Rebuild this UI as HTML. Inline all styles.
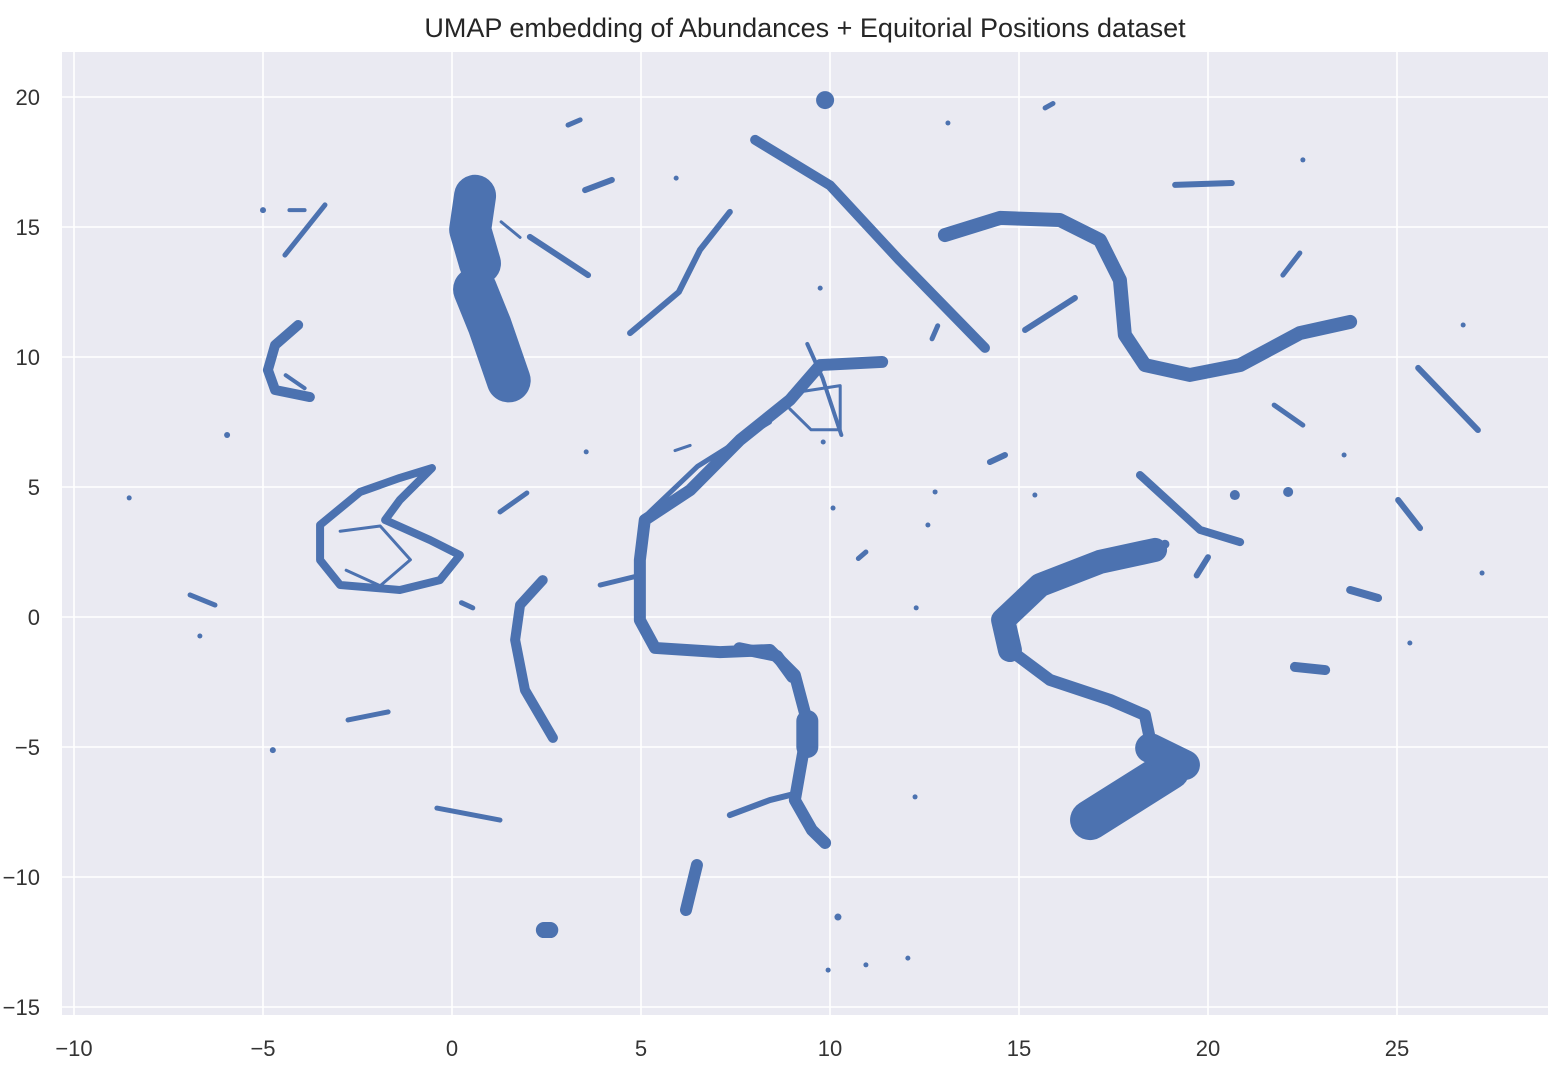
<!DOCTYPE html>
<html>
<head>
<meta charset="utf-8">
<style>
  html, body { margin: 0; padding: 0; background: #ffffff; }
  body { width: 1566px; height: 1072px; overflow: hidden; font-family: "Liberation Sans", "DejaVu Sans", sans-serif; }
  svg text { font-family: "Liberation Sans", "DejaVu Sans", sans-serif; }
</style>
</head>
<body>
<svg id="chart" width="1566" height="1072" viewBox="0 0 1566 1072" xmlns="http://www.w3.org/2000/svg">
  <rect x="62" y="52" width="1486" height="963" fill="#EAEAF2"/>
  <g id="grid"></g>
  <g id="marks"></g>
  <g id="xticks"></g>
  <g id="yticks"></g>
  <text x="805" y="37" text-anchor="middle" font-size="27" fill="#262626">UMAP embedding of Abundances + Equitorial Positions dataset</text>
</svg>
<script>
const xTicks = [-10, -5, 0, 5, 10, 15, 20, 25];
const yTicks = [20, 15, 10, 5, 0, -5, -10, -15];
const xTickLabels = ["\u221210", "\u22125", "0", "5", "10", "15", "20", "25"];
const yTickLabels = ["20", "15", "10", "5", "0", "\u22125", "\u221210", "\u221215"];

// Cluster centre-line points (UMAP coordinates)
const clusterPoints = [
  [[0.61,16.2],[0.48,14.9],[0.74,13.6]],
  [[0.61,12.6],[1.0,11.2],[1.5,9.1]],
  [[8.02,18.35],[10.0,16.6],[11.85,13.7],[14.1,10.35]],
  [[13.04,14.69],[14.5,15.35],[16.08,15.27],[17.14,14.5],[17.67,12.96],[17.8,10.85],[18.33,9.69],[19.52,9.31],[20.85,9.69],[22.43,10.92],[23.76,11.35]],
  [[18.6,2.58],[17.14,2.12],[15.56,1.23],[14.58,-0.12],[14.76,-1.27]],
  [[14.76,-1.27],[15.82,-2.42],[17.41,-3.19],[18.33,-3.77],[18.47,-4.73]],
  [[16.88,-7.81],[18.99,-5.88]],
  [[18.47,-5.04],[19.39,-5.69]],
  [[18.86,2.8]],
  [[11.38,9.81],[9.74,9.69],[8.94,8.35],[7.62,6.81],[6.3,4.88],[5.1,3.73],[4.97,2.19],[4.97,-0.12],[5.37,-1.19],[7.09,-1.35],[8.41,-1.27],[9.07,-2.23],[9.42,-4.15],[9.21,-5.88],[9.07,-7.04],[9.52,-8.19],[9.87,-8.69]],
  [[7.6,-1.2],[8.6,-1.5],[9.0,-2.3]],
  [[9.4,-4.0],[9.4,-5.0]],
  [[5.2,4.0],[6.5,5.8],[7.6,6.8],[8.4,7.5]],
  [[7.35,-7.62],[8.41,-7.04],[9.07,-6.8]],
  [[8.94,8.6],[10.27,8.9],[10.27,7.2],[9.5,7.2],[8.94,8.0]],
  [[9.4,10.5],[9.8,9.2],[10.3,7.0]],
  [[3.92,1.23],[4.97,1.6]],
  [[-3.49,3.54],[-2.43,4.81],[-1.38,5.35],[-0.53,5.73],[-1.38,4.5],[-1.77,3.73],[-0.58,2.96],[0.21,2.38],[-0.32,1.42],[-1.38,1.04],[-2.96,1.23],[-3.49,2.19],[-3.49,3.54]],
  [[-2.96,3.3],[-1.9,3.5],[-1.1,2.2],[-1.9,1.2],[-2.8,1.8]],
  [[-4.07,11.23],[-4.68,10.46],[-4.87,9.5],[-4.68,8.73],[-3.76,8.46]],
  [[-4.4,9.3],[-3.9,8.8]],
  [[-4.42,13.92],[-3.36,15.85]],
  [[-4.3,15.65],[-3.9,15.65]],
  [[-5.0,15.65]],
  [[1.3,15.2],[1.8,14.6]],
  [[2.06,14.62],[3.6,13.15]],
  [[2.4,1.42],[1.8,0.46],[1.67,-0.88],[1.93,-2.81],[2.67,-4.65]],
  [[4.71,10.92],[6.0,12.5],[6.56,14.12],[7.35,15.58]],
  [[3.52,16.42],[4.23,16.81]],
  [[3.07,18.92],[3.39,19.12]],
  [[9.87,19.88]],
  [[15.69,19.58],[15.9,19.75]],
  [[13.12,19.0]],
  [[5.93,16.88]],
  [[19.13,16.62],[20.63,16.69]],
  [[22.51,17.58]],
  [[21.98,13.15],[22.43,14.0]],
  [[15.16,11.04],[16.48,12.27]],
  [[25.56,9.58],[27.14,7.19]],
  [[21.75,8.15],[22.51,7.38]],
  [[26.75,11.23]],
  [[23.6,6.23]],
  [[18.2,5.46],[19.79,3.35],[20.85,2.88]],
  [[19.7,1.6],[20.0,2.3]],
  [[20.71,4.69]],
  [[22.12,4.81]],
  [[25.03,4.5],[25.61,3.42]],
  [[23.76,1.04],[24.5,0.73]],
  [[27.25,1.69]],
  [[25.34,-1.0]],
  [[22.3,-1.92],[23.1,-2.04]],
  [[14.23,5.96],[14.63,6.23]],
  [[12.78,4.81]],[[15.42,4.69]],[[12.59,3.54]],[[10.08,4.19]],
  [[10.75,2.25],[10.95,2.5]],
  [[12.28,0.35]],[[9.74,12.65]],[[9.82,6.73]],
  [[12.7,10.7],[12.85,11.2]],
  [[3.55,6.35]],
  [[1.27,4.04],[1.98,4.77]],
  [[-5.95,7.0]],[[-8.54,4.58]],
  [[-6.93,0.85],[-6.27,0.46]],
  [[-6.67,-0.73]],
  [[-2.75,-3.96],[-1.69,-3.65]],
  [[-4.74,-5.12]],
  [[-0.4,-7.35],[1.27,-7.81]],
  [[6.48,-9.54],[6.19,-11.27]],
  [[2.43,-12.04],[2.6,-12.04]],
  [[10.21,-11.54]],[[9.95,-13.58]],[[10.95,-13.38]],[[12.06,-13.12]],[[12.25,-6.92]],
  [[0.25,0.55],[0.55,0.35]],
  [[5.9,6.4],[6.3,6.6]]
];
const clusterWidths = [42,44,10,14,24,12,40,30,9,12,12,22,5,6,3,4,5,8,3,10,4,5,4,6,3,6,10,6,6,5,18,5,5,5,6,5,5,6,6,5,5,5,8,6,10,10,6,8,5,5,10,6,5,5,5,5,5,5,5,5,5,5,5,6,5,5,5,5,6,5,12,16,7,5,5,5,5,5,3,7];

const X0 = 452, XS = 37.8, Y0 = 617, YS = 26;
function sx(v){ return X0 + v * XS; }
function sy(v){ return Y0 - v * YS; }

const NS = "http://www.w3.org/2000/svg";
const grid = document.getElementById('grid');
const xt = document.getElementById('xticks');
const yt = document.getElementById('yticks');
const marks = document.getElementById('marks');

xTicks.forEach((t, i) => {
  const l = document.createElementNS(NS, 'line');
  
  
  l.setAttribute('x1', sx(t)); l.setAttribute('x2', sx(t));
  l.setAttribute('y1', 52); l.setAttribute('y2', 1015);
  l.setAttribute('stroke', '#ffffff'); l.setAttribute('stroke-width', '1.6');
  grid.appendChild(l);
  const tx = document.createElementNS(NS, 'text');
  
  
  tx.setAttribute('x', sx(t)); tx.setAttribute('y', 1056);
  tx.setAttribute('text-anchor', 'middle'); tx.setAttribute('font-size', '22'); tx.setAttribute('fill', '#333');
  tx.textContent = xTickLabels[i];
  xt.appendChild(tx);
});
yTicks.forEach((t, i) => {
  const l = document.createElementNS(NS, 'line');
  
  
  l.setAttribute('x1', 62); l.setAttribute('x2', 1548);
  l.setAttribute('y1', sy(t)); l.setAttribute('y2', sy(t));
  l.setAttribute('stroke', '#ffffff'); l.setAttribute('stroke-width', '1.6');
  grid.appendChild(l);
  const tx = document.createElementNS(NS, 'text');
  
  
  tx.setAttribute('x', 40); tx.setAttribute('y', sy(t) + 8);
  tx.setAttribute('text-anchor', 'end'); tx.setAttribute('font-size', '22'); tx.setAttribute('fill', '#333');
  tx.textContent = yTickLabels[i];
  yt.appendChild(tx);
});

clusterPoints.forEach((pts, i) => {
  const p = document.createElementNS(NS, 'path');
  
  
  let d = '';
  if (pts.length === 1) {
    d = 'M' + sx(pts[0][0]) + ' ' + sy(pts[0][1]) + ' l0.01 0';
  } else {
    d = pts.map((q, j) => (j ? 'L' : 'M') + sx(q[0]) + ' ' + sy(q[1])).join(' ');
  }
  p.setAttribute('d', d);
  p.setAttribute('fill', 'none');
  p.setAttribute('stroke', '#4C72B0');
  p.setAttribute('stroke-width', clusterWidths[i] || 5);
  p.setAttribute('stroke-linecap', 'round');
  p.setAttribute('stroke-linejoin', 'round');
  marks.appendChild(p);
});
</script>
</body>
</html>
